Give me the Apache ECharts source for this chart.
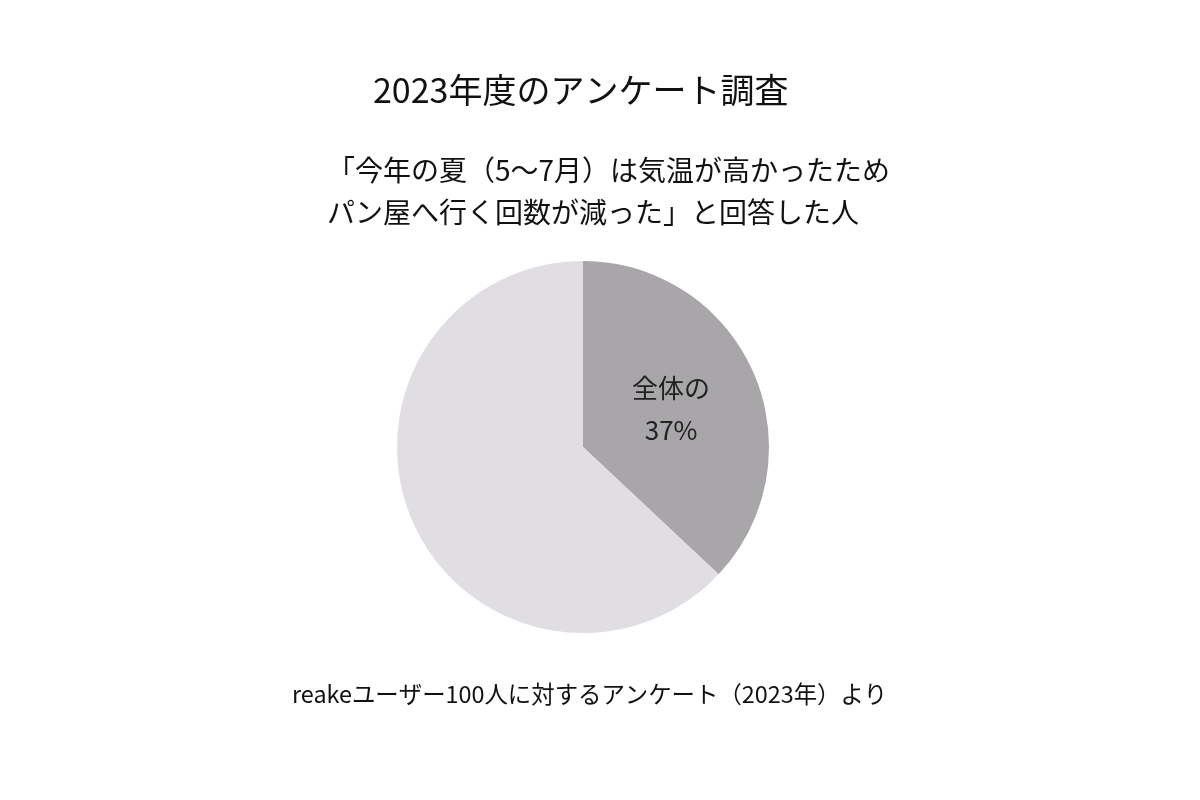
<!DOCTYPE html>
<html>
<head>
<meta charset="utf-8">
<title>2023年度のアンケート調査</title>
<script src="https://cdn.jsdelivr.net/npm/echarts@6/dist/echarts.min.js"></script>
<style>
  html, body { margin: 0; padding: 0; background: #fff; }
  #chart { width: 1200px; height: 800px; }
</style>
</head>
<body>
<div id="chart"></div>
<script>
  // アンケート結果
  var categories = ['パン屋へ行く回数が減った', 'その他'];
  var values = [37, 63];
  var colors = ['#a8a6a9', '#e0dee2'];

  var FONT = '"Noto Sans CJK JP", "Noto Sans", sans-serif';

  var chart = echarts.init(document.getElementById('chart'));

  var pieData = categories.map(function (name, i) {
    return {
      name: name,
      value: values[i],
      itemStyle: { color: colors[i] },
      label: i === 0 ? {
        show: true,
        position: 'inside',
        formatter: '全体の\n{c}%',
        fontSize: 26,
        lineHeight: 42,
        color: '#222',
        fontFamily: FONT
      } : { show: false }
    };
  });

  var option = {
    backgroundColor: '#fff',
    animation: false,
    title: [
      {
        text: '2023年度のアンケート調査',
        left: 373,
        top: 71,
        padding: 0,
        textStyle: { fontSize: 34, lineHeight: 38, fontWeight: 'normal', color: '#111', fontFamily: FONT }
      },
      {
        text: '「今年の夏（5〜7月）は気温が高かったため\nパン屋へ行く回数が減った」と回答した人',
        left: 327,
        top: 149,
        padding: 0,
        textStyle: { fontSize: 28, lineHeight: 42, fontWeight: 'normal', color: '#111', fontFamily: FONT }
      },
      {
        text: 'reakeユーザー100人に対するアンケート（2023年）より',
        left: 292,
        top: 679,
        padding: 0,
        textStyle: { fontSize: 23.4, lineHeight: 30, fontWeight: 'normal', color: '#111', fontFamily: FONT }
      }
    ],
    series: [
      {
        type: 'pie',
        center: [583, 447],
        radius: [0, 186],
        startAngle: 90,
        clockwise: true,
        silent: true,
        labelLine: { show: false },
        data: pieData
      }
    ]
  };

  chart.setOption(option);
</script>
</body>
</html>
